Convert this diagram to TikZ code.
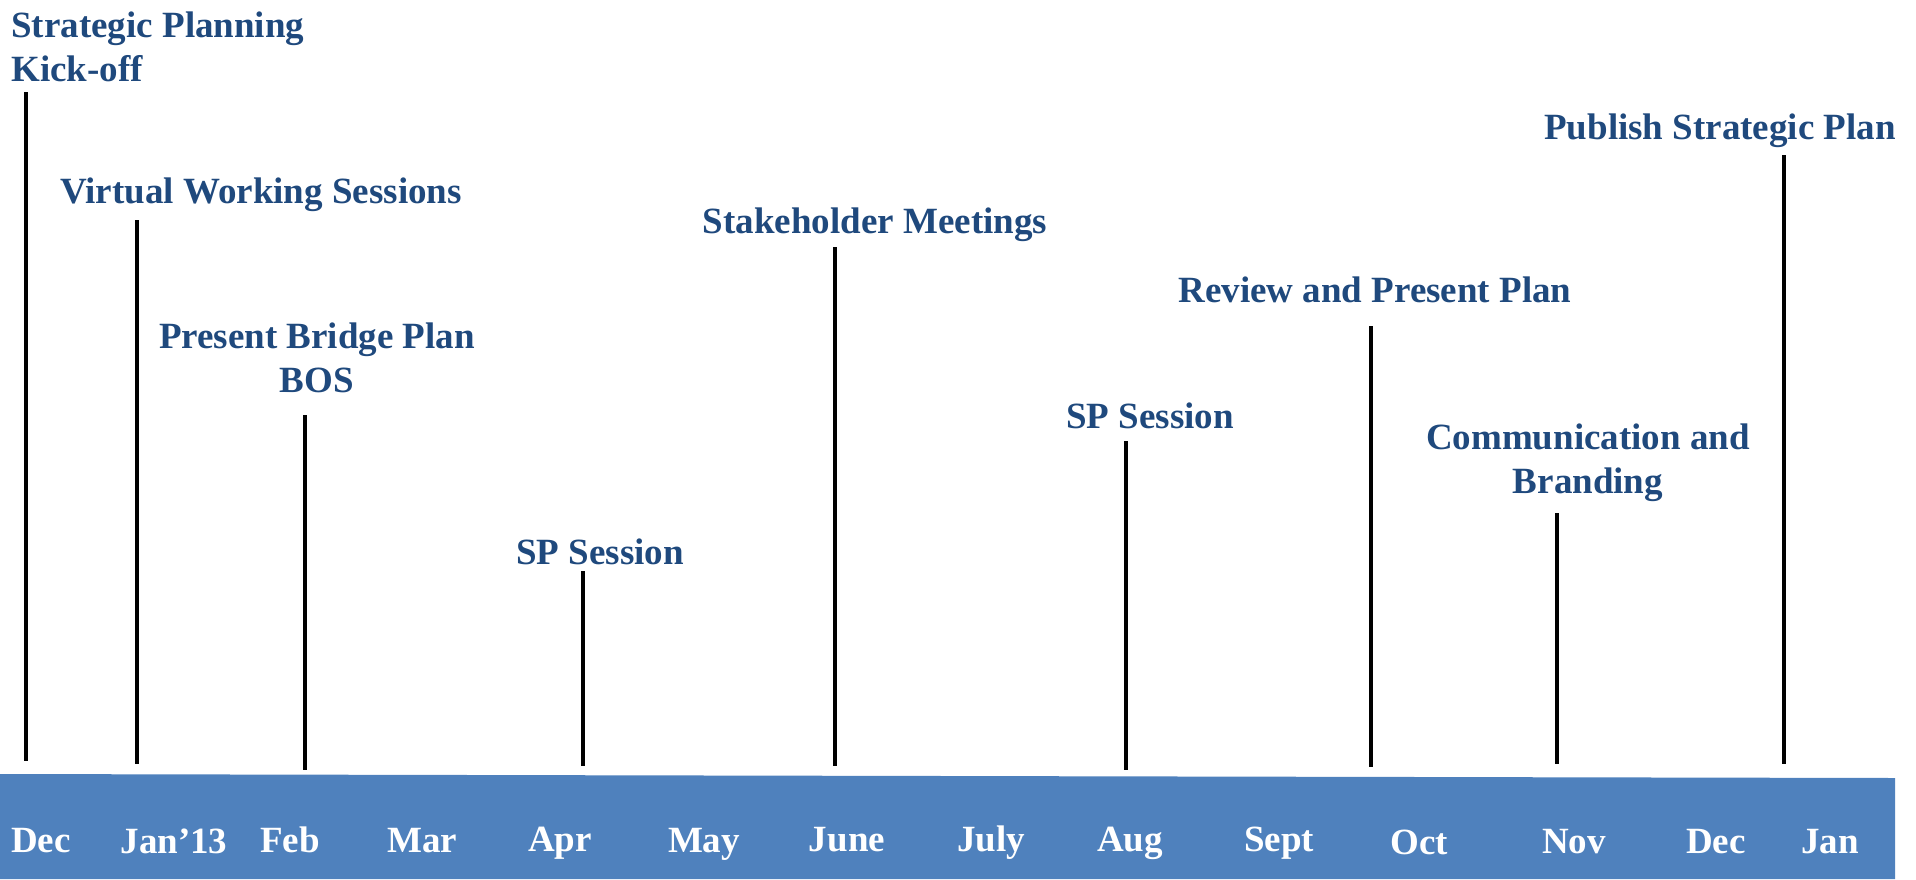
\documentclass[tikz,border=0pt]{standalone}
\usepackage{fontspec}
\setmainfont{Liberation Serif}
\definecolor{txtblue}{HTML}{1F497D}
\definecolor{barblue}{HTML}{4F81BD}
\begin{document}
\begin{tikzpicture}[x=0.5pt,y=-0.5pt,
  evt/.style={font=\fontsize{18.5pt}{22pt}\selectfont\bfseries, text=txtblue, inner sep=0pt, anchor=base},
  month/.style={font=\fontsize{18.5pt}{22pt}\selectfont\bfseries, text=white, inner sep=0pt, anchor=base},
  tick/.style={line width=1.7pt, draw=black}]
\useasboundingbox (0,0) rectangle (1916,879);
% timeline bar
\fill[barblue] (0,774) -- (1895,778) -- (1895,879) -- (0,879) -- cycle;
% event labels (multi-line nodes: base = baseline of last line)
\node[evt, align=left, anchor=base west] (kick) at (11,81) {Strategic Planning\\Kick-off};
\node[evt] (vws) at (261,203) {Virtual Working Sessions};
\node[evt, align=center] (pbp) at (317,392) {Present Bridge Plan\\BOS};
\node[evt] (sp1) at (600,564) {SP Session};
\node[evt] (stk) at (875,233) {Stakeholder Meetings};
\node[evt] (sp2) at (1150,428) {SP Session};
\node[evt] (rev) at (1375,302) {Review and Present Plan};
\node[evt, align=center] (com) at (1588,493) {Communication and\\Branding};
\node[evt] (pub) at (1720,139) {Publish Strategic Plan};
% tick line end points
\coordinate (t1) at (26,92);   \coordinate (b1) at (26,761);
\coordinate (t2) at (137,220); \coordinate (b2) at (137,764);
\coordinate (t3) at (305,415); \coordinate (b3) at (305,770);
\coordinate (t4) at (583,571); \coordinate (b4) at (583,766);
\coordinate (t5) at (835,247); \coordinate (b5) at (835,766);
\coordinate (t6) at (1126,441); \coordinate (b6) at (1126,770);
\coordinate (t7) at (1371,326); \coordinate (b7) at (1371,767);
\coordinate (t8) at (1557,513); \coordinate (b8) at (1557,764);
\coordinate (t9) at (1784,155); \coordinate (b9) at (1784,764);
\foreach \i in {1,...,9} {\draw[tick] (t\i) -- (b\i);}
% months
\node[month] (m1) at (41,852) {Dec};
\node[month] (m2) at (174,853) {Jan’13};
\node[month] (m3) at (290,852) {Feb};
\node[month] (m4) at (422,852) {Mar};
\node[month] (m5) at (560,851) {Apr};
\node[month] (m6) at (704,852) {May};
\node[month] (m7) at (847,851) {June};
\node[month] (m8) at (991,851) {July};
\node[month] (m9) at (1130,851) {Aug};
\node[month] (m10) at (1279,851) {Sept};
\node[month] (m11) at (1419,854) {Oct};
\node[month] (m12) at (1574,853) {Nov};
\node[month] (m13) at (1716,853) {Dec};
\node[month] (m14) at (1830,853) {Jan};
\end{tikzpicture}
\end{document}
